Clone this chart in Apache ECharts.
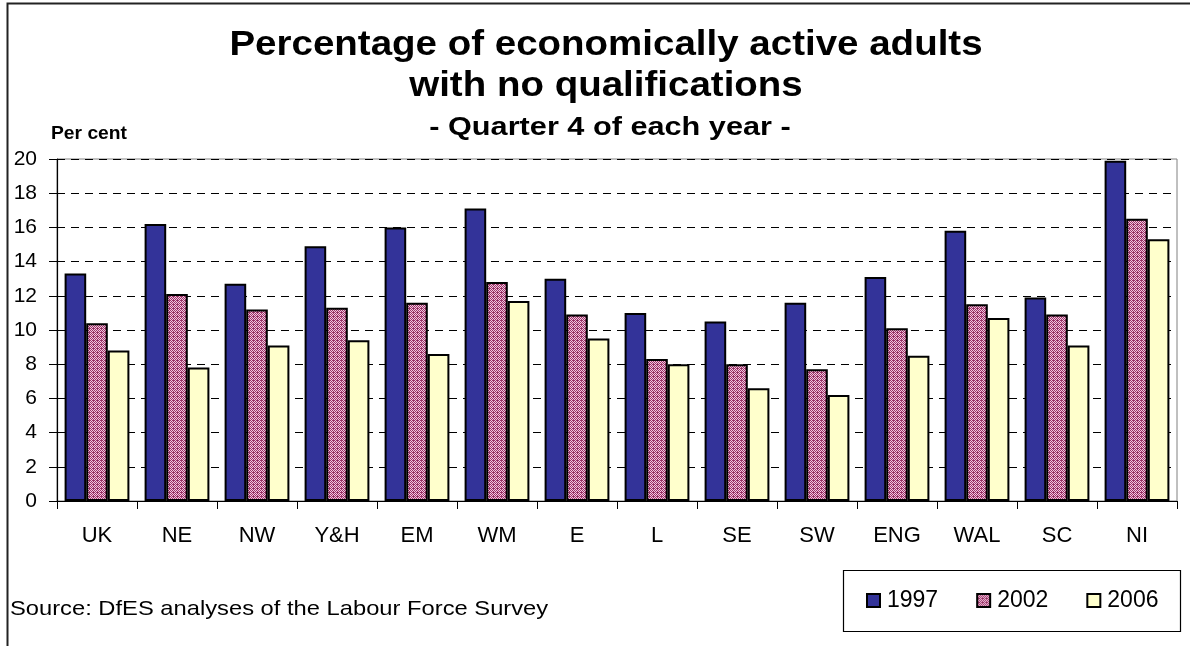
<!DOCTYPE html>
<html>
<head>
<meta charset="utf-8">
<script src="https://cdn.jsdelivr.net/npm/echarts@6/dist/echarts.min.js"></script>
<style>
html,body{margin:0;padding:0;background:#fff;}
#c{width:1190px;height:646px;}
</style>
</head>
<body>
<div id="c"></div>
<script>
const categories = ['UK','NE','NW','Y&H','EM','WM','E','L','SE','SW','ENG','WAL','SC','NI'];
const v1997 = [13.3,16.2,12.7,14.9,16.0,17.1,13.0,11.0,10.5,11.6,13.1,15.8,11.9,19.9];
const v2002 = [10.4,12.1,11.2,11.3,11.6,12.8,10.9,8.3,8.0,7.7,10.1,11.5,10.9,16.5];
const v2006 = [8.8,7.8,9.1,9.4,8.6,11.7,9.5,8.0,6.6,6.2,8.5,10.7,9.1,15.3];
const yTicks = [0,2,4,6,8,10,12,14,16,18,20];

// pattern for 2002
const pc = document.createElement('canvas');
pc.width = 4; pc.height = 4;
const pctx = pc.getContext('2d');
pctx.fillStyle = '#f2c4de';
pctx.fillRect(0,0,4,4);
pctx.fillStyle = '#993366';
[[0,0],[2,0],[1,1],[3,1],[0,2],[2,2],[1,3],[3,3],[1,0]].forEach(p=>pctx.fillRect(p[0],p[1],1,1));
const pattern = {image: pc, repeat: 'repeat'};

const chart = echarts.init(document.getElementById('c'), null, {renderer:'canvas'});
const font = 'Liberation Sans, Arial, sans-serif';
const border = {borderColor:'#000', borderWidth:2};
chart.setOption({
  animation:false,
  textStyle:{fontFamily:font},
  grid:{left:57, right:13, top:159, bottom:145, show:true, borderColor:'#808080', borderWidth:1},
  graphic:[
    {type:'rect', shape:{x:7.5,y:3.5,width:1200,height:700}, style:{fill:'none', stroke:'#222', lineWidth:2}, silent:true},
    {type:'rect', shape:{x:843.5,y:570.5,width:337,height:61}, style:{fill:'#fff', stroke:'#000', lineWidth:1.2}, z:-1, silent:true},
    {type:'text', x:606, y:45, scaleX:1.1, style:{text:'Percentage of economically active adults', font:'bold 35px '+font, fill:'#000', align:'center', verticalAlign:'middle'}},
    {type:'text', x:606, y:86, scaleX:1.1, style:{text:'with no qualifications', font:'bold 35px '+font, fill:'#000', align:'center', verticalAlign:'middle'}},
    {type:'text', x:610, y:128, scaleX:1.18, style:{text:'- Quarter 4 of each year -', font:'bold 26px '+font, fill:'#000', align:'center', verticalAlign:'middle'}},
    {type:'text', x:51, y:134, scaleX:1.07, style:{text:'Per cent', font:'bold 18px '+font, fill:'#000', align:'left', verticalAlign:'middle'}},
    {type:'text', x:10, y:609, scaleX:1.13, style:{text:'Source: DfES analyses of the Labour Force Survey', font:'21px '+font, fill:'#000', align:'left', verticalAlign:'middle'}}
  ],
  legend:{
    left:861, top:584, itemWidth:13, itemHeight:13, itemGap:38,
    icon:'rect',
    textStyle:{fontSize:23, color:'#000', fontFamily:font, padding:[0,0,0,2]},
    data:['1997','2002','2006']
  },
  xAxis:{
    type:'category', data:categories,
    axisLine:{lineStyle:{color:'#000', width:1.2}},
    axisTick:{show:true, length:8, lineStyle:{color:'#000'}},
    axisLabel:{fontSize:22, color:'#000', margin:24, fontFamily:font}
  },
  yAxis:{
    type:'value', min:0, max:20, interval:2,
    axisLine:{show:true, lineStyle:{color:'#000', width:1.2}},
    axisTick:{show:true, length:8, lineStyle:{color:'#000'}},
    axisLabel:{fontSize:21, color:'#000', margin:20, fontFamily:font,
      formatter:v=>yTicks.indexOf(v)>=0?String(v):''},
    splitLine:{show:true, lineStyle:{color:'#000', type:[8,6], width:1}}
  },
  series:[
    {name:'1997', type:'bar', data:v1997, barGap:'0%', barCategoryGap:'19%',
     itemStyle:Object.assign({color:'#333399'}, border)},
    {name:'2002', type:'bar', data:v2002, barGap:'0%', barCategoryGap:'19%',
     itemStyle:Object.assign({color:pattern}, border)},
    {name:'2006', type:'bar', data:v2006, barGap:'0%', barCategoryGap:'19%',
     itemStyle:Object.assign({color:'#ffffcc'}, border)}
  ]
});
</script>
</body>
</html>
